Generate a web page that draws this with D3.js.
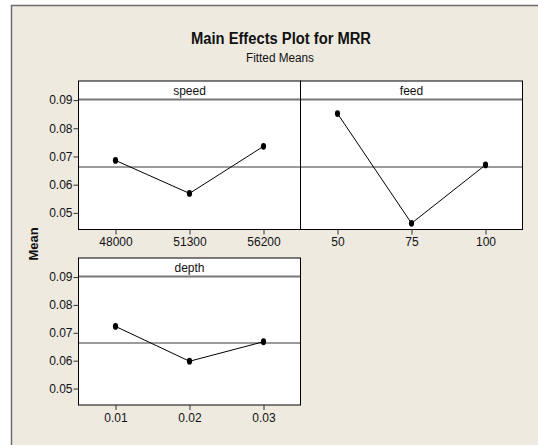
<!DOCTYPE html>
<html>
<head>
<meta charset="utf-8">
<script src="https://cdn.jsdelivr.net/npm/d3@7"></script>
<style>
  html, body { margin: 0; padding: 0; background: #ffffff; }
  svg { display: block; }
  text { font-family: "Liberation Sans", Arial, sans-serif; fill: #111; }
</style>
</head>
<body>
<svg id="chart" width="538" height="445"></svg>
<script>
// ---- data ----
const factors = ["speed", "feed", "depth"];
const speedLevels = ["48000", "51300", "56200"];
const speedMeans = [0.0686, 0.0569, 0.0736];
const feedLevels = ["50", "75", "100"];
const feedMeans = [0.0852, 0.0463, 0.0670];
const depthLevels = ["0.01", "0.02", "0.03"];
const depthMeans = [0.0723, 0.0598, 0.0668];
const grandMean = 0.0663;
const yTicks = [0.05, 0.06, 0.07, 0.08, 0.09];
const yDomain = [0.0441, 0.0902];

const titleText = "Main Effects Plot for MRR";
const subtitleText = "Fitted Means";
const yLabel = "Mean";

const svg = d3.select("#chart");

// background frame
svg.append("rect").attr("x", 11).attr("y", 5).attr("width", 540).attr("height", 450)
  .attr("fill", "#EEEAE0");
svg.append("line").attr("x1", 11.5).attr("x2", 11.5).attr("y1", 5).attr("y2", 445)
  .attr("stroke", "#6e6e6e").attr("stroke-width", 1.5);
svg.append("line").attr("x1", 11).attr("x2", 538).attr("y1", 5.5).attr("y2", 5.5)
  .attr("stroke", "#6e6e6e").attr("stroke-width", 1.5);

// titles
svg.append("text").attr("x", 281).attr("y", 44).attr("text-anchor", "middle")
  .attr("font-size", 16).attr("font-weight", "bold")
  .attr("textLength", 180).attr("lengthAdjust", "spacingAndGlyphs")
  .text(titleText);
svg.append("text").attr("x", 280).attr("y", 62).attr("text-anchor", "middle")
  .attr("font-size", 12).attr("textLength", 68).attr("lengthAdjust", "spacingAndGlyphs")
  .text(subtitleText);

svg.append("text")
  .attr("transform", "translate(38,244) rotate(-90)")
  .attr("text-anchor", "middle").attr("font-size", 13).attr("font-weight", "bold")
  .text(yLabel);

const panels = [
  { name: factors[0], levels: speedLevels, means: speedMeans, x0: 78.5, x1: 300.5, top: 81, bottom: 229.5, yAxis: true },
  { name: factors[1], levels: feedLevels, means: feedMeans, x0: 300.5, x1: 522.5, top: 81, bottom: 229.5, yAxis: false },
  { name: factors[2], levels: depthLevels, means: depthMeans, x0: 78.5, x1: 300.5, top: 258, bottom: 405, yAxis: true }
];

const stripH = 18.5;

panels.forEach(p => {
  const g = svg.append("g");
  const stripBottom = p.top + stripH;
  const x = d3.scalePoint().domain(p.levels).range([p.x0, p.x1]).padding(0.5);
  const y = d3.scaleLinear().domain(yDomain).range([p.bottom, stripBottom]);

  // panel background
  g.append("rect").attr("x", p.x0).attr("y", p.top).attr("width", p.x1 - p.x0)
    .attr("height", p.bottom - p.top).attr("fill", "#ffffff");

  // strip
  g.append("text").attr("x", (p.x0 + p.x1) / 2).attr("y", p.top + 13.5)
    .attr("text-anchor", "middle").attr("font-size", 12).text(p.name);
  g.append("line").attr("x1", p.x0).attr("x2", p.x1)
    .attr("y1", stripBottom).attr("y2", stripBottom)
    .attr("stroke", "#777").attr("stroke-width", 2);

  // reference line
  g.append("line").attr("x1", p.x0).attr("x2", p.x1)
    .attr("y1", y(grandMean)).attr("y2", y(grandMean))
    .attr("stroke", "#7a7a7a").attr("stroke-width", 1.5);

  // data line
  const pts = p.levels.map((l, i) => [x(l), y(p.means[i])]);
  g.append("path").attr("d", d3.line()(pts)).attr("fill", "none")
    .attr("stroke", "#000").attr("stroke-width", 1);
  g.selectAll("ellipse").data(pts).join("ellipse")
    .attr("cx", d => d[0]).attr("cy", d => d[1]).attr("rx", 2.6).attr("ry", 3.4)
    .attr("fill", "#000");

  // border
  g.append("rect").attr("x", p.x0).attr("y", p.top).attr("width", p.x1 - p.x0)
    .attr("height", p.bottom - p.top).attr("fill", "none")
    .attr("stroke", "#000").attr("stroke-width", 1);

  // x axis
  const xa = g.append("g").attr("transform", `translate(0,${p.bottom})`)
    .call(d3.axisBottom(x).tickSize(5).tickPadding(3));
  xa.select(".domain").remove();
  xa.selectAll("line").attr("stroke", "#333");
  xa.selectAll("text").attr("font-size", 12).attr("font-family", "Liberation Sans, Arial, sans-serif").attr("fill", "#111");

  if (p.yAxis) {
    const ya = g.append("g").attr("transform", `translate(${p.x0},0)`)
      .call(d3.axisLeft(y).tickValues(yTicks).tickFormat(d3.format(".2f")).tickSize(5).tickPadding(1));
    ya.select(".domain").remove();
    ya.selectAll("line").attr("stroke", "#333");
    ya.selectAll("text").attr("font-size", 12).attr("font-family", "Liberation Sans, Arial, sans-serif").attr("fill", "#111");
  }
});
</script>
</body>
</html>
